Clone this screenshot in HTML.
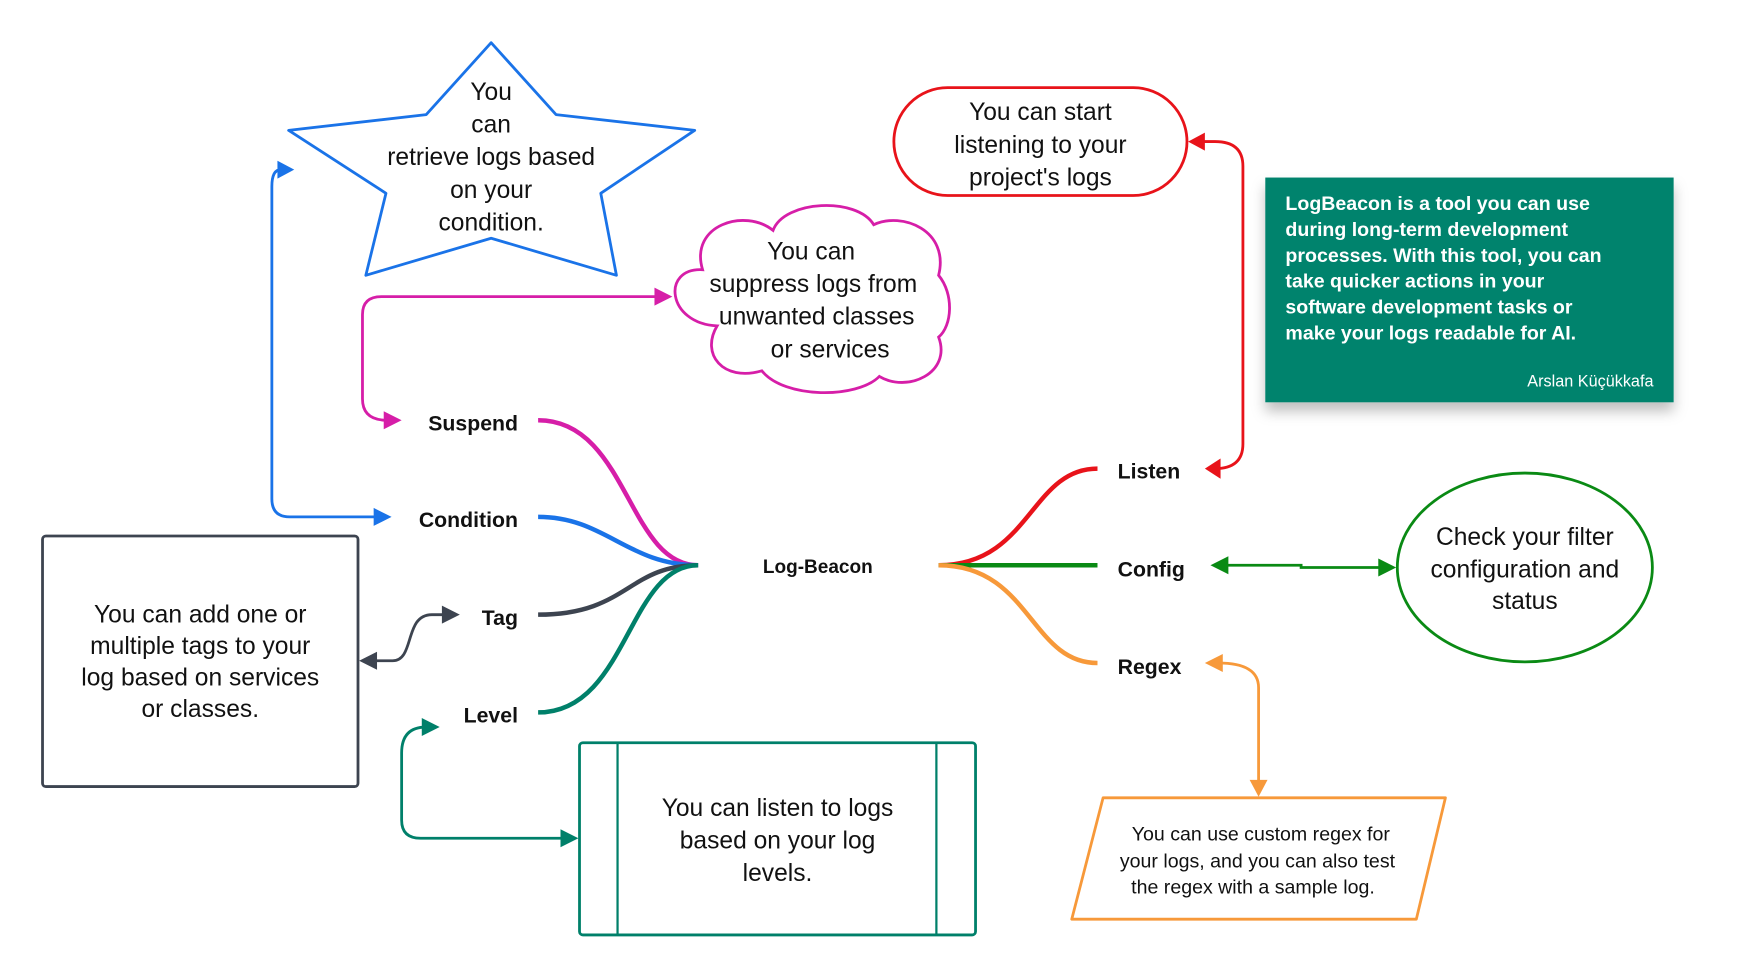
<!DOCTYPE html>
<html><head><meta charset="utf-8"><style>
html,body{margin:0;padding:0;background:#fff}
svg{display:block}
text{font-family:"Liberation Sans",sans-serif}
</style></head><body>
<svg width="1754" height="972" viewBox="0 0 1560 865" preserveAspectRatio="none">
<defs>
<filter id="sh" x="-10%" y="-10%" width="130%" height="140%"><feDropShadow dx="0" dy="8" stdDeviation="6" flood-color="#000" flood-opacity="0.25"/></filter>
</defs>
<rect width="1560" height="865" fill="#fff"/>
<g transform="matrix(0.995 0 0 1 1 0)">
<!-- star -->
<polygon points="438,38 496,102 620,116 536,172 550,245 438,212 326,245 344,172 257,116 380,102" fill="#fff" stroke="#1a73e8" stroke-width="2.5" stroke-linejoin="round"/>
<g font-size="22" fill="#111" text-anchor="middle">
<text x="438" y="89">You</text><text x="438" y="118">can</text><text x="438" y="147">retrieve logs based</text><text x="438" y="176">on your</text><text x="438" y="205">condition.</text>
</g>

<!-- cloud -->
<path d="M627,240 C615,200 665,185 690,205 C700,178 765,175 780,200 C805,188 848,205 838,245 C852,262 850,290 838,300 C850,332 810,350 785,335 C765,355 700,355 680,330 C645,340 625,315 640,290 C595,288 590,238 627,240 Z" fill="#fff" stroke="#d61ea8" stroke-width="2.5"/>
<g font-size="22" fill="#111" text-anchor="middle">
<text x="724" y="231">You can</text><text x="726" y="260">suppress logs from</text><text x="729" y="289">unwanted classes</text><text x="741" y="318">or services</text>
</g>

<!-- listen rounded -->
<rect x="798" y="78" width="262" height="96" rx="48" fill="#fff" stroke="#e8131a" stroke-width="2.5"/>
<g font-size="22" fill="#111" text-anchor="middle">
<text x="929" y="107">You can start</text><text x="929" y="136">listening to your</text><text x="929" y="165">project's logs</text>
</g>

<!-- note -->
<rect x="1130" y="158" width="365" height="200" fill="#00836d" filter="url(#sh)"/>
<g font-size="17.5" font-weight="bold" fill="#fff">
<text x="1148" y="187">LogBeacon is a tool you can use</text>
<text x="1148" y="210">during long-term development</text>
<text x="1148" y="233">processes. With this tool, you can</text>
<text x="1148" y="256">take quicker actions in your</text>
<text x="1148" y="279">software development tasks or</text>
<text x="1148" y="302">make your logs readable for AI.</text>
</g>
<text x="1477" y="344" font-size="14.5" fill="#fff" text-anchor="end">Arslan Küçükkafa</text>

<!-- tag box -->
<rect x="37" y="477" width="282" height="223" rx="3" fill="#fff" stroke="#3d4450" stroke-width="2.5"/>
<g font-size="22" fill="#111" text-anchor="middle">
<text x="178" y="554">You can add one or</text><text x="178" y="582">multiple tags to your</text><text x="178" y="610">log based on services</text><text x="178" y="638">or classes.</text>
</g>

<!-- level box -->
<rect x="517" y="661" width="354" height="171" rx="3" fill="#fff" stroke="#00806a" stroke-width="2.5"/>
<line x1="551" y1="661" x2="551" y2="832" stroke="#00806a" stroke-width="2"/>
<line x1="836" y1="661" x2="836" y2="832" stroke="#00806a" stroke-width="2"/>
<g font-size="22" fill="#111" text-anchor="middle">
<text x="694" y="726">You can listen to logs</text><text x="694" y="755">based on your log</text><text x="694" y="784">levels.</text>
</g>

<!-- config ellipse -->
<ellipse cx="1362" cy="505" rx="114" ry="84" fill="#fff" stroke="#0a8a14" stroke-width="2.5"/>
<g font-size="22" fill="#111" text-anchor="middle">
<text x="1362" y="485">Check your filter</text><text x="1362" y="514">configuration and</text><text x="1362" y="542">status</text>
</g>

<!-- regex parallelogram -->
<polygon points="985,710 1291,710 1265,818 957,818" fill="#fff" stroke="#f7993a" stroke-width="2.5" stroke-linejoin="round"/>
<g font-size="17.5" fill="#111" text-anchor="middle">
<text x="1126" y="748">You can use custom regex for</text><text x="1123" y="772">your logs, and you can also test</text><text x="1119" y="795">the regex with a sample log.</text>
</g>

<!-- branch curves -->
<g fill="none" stroke-width="4">
<path d="M480,374 C560,374 560,503 623,503" stroke="#d61ea8"/>
<path d="M480,460 C540,460 560,503 623,503" stroke="#1a73e8"/>
<path d="M480,547 C560,547 560,503 623,503" stroke="#3d4450"/>
<path d="M480,634 C560,634 560,503 623,503" stroke="#00806a"/>
<path d="M838,503 C920,503 920,417 980,417" stroke="#e8131a"/>
<path d="M838,503 L980,503" stroke="#0a8a14"/>
<path d="M838,503 C920,503 920,590 980,590" stroke="#f7993a"/>
</g>

<!-- labels -->
<g font-size="19" font-weight="bold" fill="#111">
<text x="462" y="383" text-anchor="end">Suspend</text>
<text x="462" y="469" text-anchor="end">Condition</text>
<text x="462" y="556" text-anchor="end">Tag</text>
<text x="462" y="643" text-anchor="end">Level</text>
<text x="998" y="426">Listen</text>
<text x="998" y="513">Config</text>
<text x="998" y="600">Regex</text>
</g>
<text x="730" y="510" font-size="17" font-weight="bold" fill="#111" text-anchor="middle">Log-Beacon</text>

<!-- connectors -->
<g fill="none" stroke-width="2.5">
<path d="M340,460 L258,460 Q242,460 242,444 L242,166 Q242,151 250,151" stroke="#1a73e8"/>
<path d="M345,374 Q323,374 323,355 L323,280 Q323,264 340,264 L588,264" stroke="#d61ea8"/>
<path d="M398,547 L385,547 C360,547 370,588 350,588 L332,588" stroke="#3d4450"/>
<path d="M380,647 Q358,647 358,670 L358,730 Q358,746 375,746 L505,746" stroke="#00806a"/>
<path d="M1085,417 Q1110,417 1110,395 L1110,148 Q1110,126 1085,126 L1072,126" stroke="#e8131a"/>
<path d="M1095,503 L1162,503 L1162,505 L1236,505" stroke="#0a8a14"/>
<path d="M1088,590 Q1124,590 1124,612 L1124,698" stroke="#f7993a"/>
</g>
<!-- arrowheads -->
<polygon points="262,151 247,143 247,159" fill="#1a73e8"/>
<polygon points="349,460 333,452 333,468" fill="#1a73e8"/>
<polygon points="358,374 342,366 342,382" fill="#d61ea8"/>
<polygon points="600,264 584,256 584,272" fill="#d61ea8"/>
<polygon points="410,547 394,539 394,555" fill="#3d4450"/>
<polygon points="320,588 336,580 336,596" fill="#3d4450"/>
<polygon points="392,647 376,639 376,655" fill="#00806a"/>
<polygon points="516,746 500,738 500,754" fill="#00806a"/>
<polygon points="1076,417 1090,408 1090,426" fill="#e8131a"/>
<polygon points="1061,126 1076,118 1076,134" fill="#e8131a"/>
<polygon points="1081,503 1097,495 1097,511" fill="#0a8a14"/>
<polygon points="1247,505 1231,497 1231,513" fill="#0a8a14"/>
<polygon points="1076,590 1092,582 1092,598" fill="#f7993a"/>
<polygon points="1124,709 1116,694 1132,694" fill="#f7993a"/>
</g>
</svg>
</body></html>
